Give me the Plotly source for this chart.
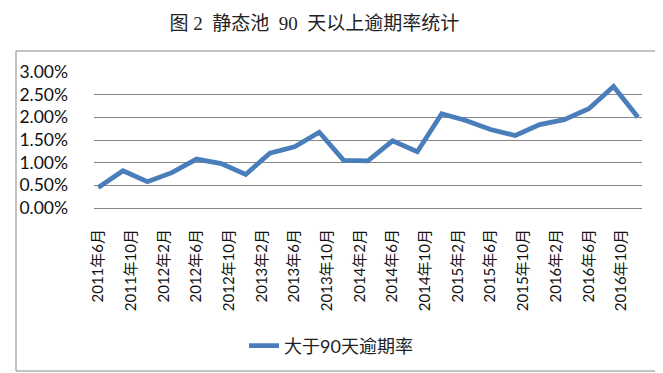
import plotly.graph_objects as go

# Data
dates = ["2011-06-01", "2011-09-01", "2011-12-01", "2012-03-01", "2012-06-01", "2012-09-01",
         "2012-12-01", "2013-03-01", "2013-06-01", "2013-09-01", "2013-12-01", "2014-03-01",
         "2014-06-01", "2014-09-01", "2014-12-01", "2015-03-01", "2015-06-01", "2015-09-01",
         "2015-12-01", "2016-03-01", "2016-06-01", "2016-09-01", "2016-12-01"]
rates = [0.45, 0.82, 0.58, 0.78, 1.08, 0.98,
         0.74, 1.21, 1.35, 1.67, 1.05, 1.04,
         1.48, 1.24, 2.08, 1.93, 1.73, 1.60,
         1.84, 1.95, 2.19, 2.68, 2.00]
rates_frac = [v / 100 for v in rates]

tick_dates = ["2011-06-01", "2011-10-01", "2012-02-01", "2012-06-01", "2012-10-01", "2013-02-01",
              "2013-06-01", "2013-10-01", "2014-02-01", "2014-06-01", "2014-10-01", "2015-02-01",
              "2015-06-01", "2015-10-01", "2016-02-01", "2016-06-01", "2016-10-01"]
tick_text = ["2011年6月", "2011年10月", "2012年2月", "2012年6月", "2012年10月", "2013年2月",
             "2013年6月", "2013年10月", "2014年2月", "2014年6月", "2014年10月", "2015年2月",
             "2015年6月", "2015年10月", "2016年2月", "2016年6月", "2016年10月"]
y_ticks = [0, 0.005, 0.01, 0.015, 0.02, 0.025, 0.03]

series_name = "大于90天逾期率"
title_text = "图\u00a02\u00a0\u00a0静态池\u00a0\u00a090\u00a0\u00a0天以上逾期率统计"

W, H = 663, 373
L, R, T, B = 86, 29, 64, 173
pw, ph = W - L - R, H - T - B

def px_x(x):
    return (x - L) / pw

def px_y(y):
    return (H - B - y) / ph

sans = "Lato, 'Noto Sans CJK SC', sans-serif"
serif = "'Liberation Serif', 'Noto Sans CJK SC', serif"

fig = go.Figure()
fig.add_trace(go.Scatter(
    x=dates, y=rates_frac, mode="lines", name=series_name,
    line=dict(color="#4A7EBB", width=4.8),
))

fig.update_layout(
    width=W, height=H,
    margin=dict(l=L, r=R, t=T, b=B),
    paper_bgcolor="white", plot_bgcolor="white",
    showlegend=True,
    legend=dict(orientation="h", x=px_x(236), y=px_y(338), xanchor="left", yanchor="middle",
                font=dict(family=sans, size=18, color="#222"), bgcolor="rgba(0,0,0,0)"),
    title=dict(text=title_text, x=0.462, xanchor="center", y=1 - 15.5 / H, yanchor="middle",
               font=dict(family=serif, size=19, color="#222")),
    xaxis=dict(
        type="date", range=["2011-05-16", "2016-12-16"],
        tickvals=tick_dates, ticktext=tick_text, tickangle=-90,
        showgrid=False, showline=True, linecolor="#868686", linewidth=1,
        ticks="", ticklabelstandoff=14,
        tickfont=dict(family=sans, size=15, color="#111"),
    ),
    yaxis=dict(
        range=[0, 0.03], tickvals=y_ticks, tickformat=".2%",
        showgrid=True, gridcolor="#868686", gridwidth=1,
        zeroline=False, showline=False, ticks="", ticklabelstandoff=25,
        tickfont=dict(family=sans, size=17.5, color="#111"),
    ),
    shapes=[dict(type="rect", xref="paper", yref="paper",
                 x0=px_x(8), x1=px_x(654), y0=px_y(363), y1=px_y(43),
                 line=dict(color="#868686", width=1), fillcolor="rgba(0,0,0,0)", layer="below")],
)

fig.write_html("out.html")
